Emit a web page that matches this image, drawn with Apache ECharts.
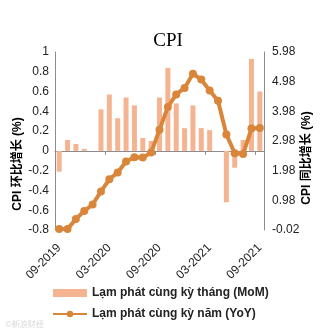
<!DOCTYPE html>
<html>
<head>
<meta charset="utf-8">
<script src="https://cdn.jsdelivr.net/npm/echarts@6/dist/echarts.min.js"></script>
<style>
html,body{margin:0;padding:0;background:#fff;}
#chart{width:331px;height:335px;}
</style>
</head>
<body>
<div id="chart"></div>
<script>
const categories = ['09-2019','10-2019','11-2019','12-2019','01-2020','02-2020','03-2020','04-2020','05-2020','06-2020','07-2020','08-2020','09-2020','10-2020','11-2020','12-2020','01-2021','02-2021','03-2021','04-2021','05-2021','06-2021','07-2021','08-2021','09-2021'];
const momValues = [-0.21, 0.11, 0.07, 0.02, 0, 0.42, 0.57, 0.33, 0.54, 0.46, 0.13, 0.10, 0.54, 0.84, 0.48, 0.23, 0.46, 0.23, 0.21, 0, -0.52, -0.17, 0.11, 0.93, 0.60];
const yoyValues = [0.01, 0.01, 0.35, 0.62, 0.84, 1.28, 1.69, 1.92, 2.29, 2.43, 2.42, 2.59, 3.36, 4.13, 4.55, 4.77, 5.25, 5.05, 4.68, 4.34, 3.20, 2.57, 2.54, 3.40, 3.42];
const rightTicks = [-0.02, 0.98, 1.98, 2.98, 3.98, 4.98, 5.98];
const seriesNames = ['Lạm phát cùng kỳ tháng (MoM)', 'Lạm phát cùng kỳ năm (YoY)'];
const titleText = 'CPI';
const leftName = 'CPI 环比增长 (%)';
const rightName = 'CPI 同比增长 (%)';

const sans = '"Liberation Sans", "Noto Sans CJK SC", sans-serif';
const chart = echarts.init(document.getElementById('chart'), null, {renderer: 'canvas'});
chart.setOption({
  animation: false,
  backgroundColor: '#fff',
  grid: {left: 55, right: 67, top: 52, bottom: 105, containLabel: false},
  graphic: [
    {type: 'text', x: 168, y: 41, style: {text: titleText, font: '19px "Liberation Serif", serif', fill: '#000', textAlign: 'center', textVerticalAlign: 'middle'}},
    {type: 'text', x: 18, y: 164, rotation: Math.PI / 2, style: {text: leftName, font: 'bold 12px ' + sans, fill: '#000', textAlign: 'center', textVerticalAlign: 'middle'}},
    {type: 'text', x: 307, y: 158, rotation: Math.PI / 2, style: {text: rightName, font: 'bold 12px ' + sans, fill: '#000', textAlign: 'center', textVerticalAlign: 'middle'}},
    {type: 'text', x: 5, y: 324, style: {text: '©新浪财经', font: '8px "Noto Sans CJK SC", sans-serif', fill: '#d8d8d8', textVerticalAlign: 'middle'}}
  ],
  legend: {
    orient: 'vertical', left: 52, top: 287, itemGap: 9, padding: 0,
    itemWidth: 34, itemHeight: 8,
    textStyle: {fontFamily: sans, fontSize: 12, fontWeight: 'bold', color: '#222'},
    data: [
      {name: seriesNames[0], icon: 'rect'},
      {name: seriesNames[1]}
    ]
  },
  xAxis: [
    {
      type: 'category', data: categories, position: 'bottom',
      axisLine: {onZero: true, lineStyle: {color: '#8c8c8c', width: 1}},
      axisTick: {show: true, interval: 5, length: 4, lineStyle: {color: '#8c8c8c'}},
      axisLabel: {show: false},
      splitLine: {show: false}
    },
    {
      type: 'category', data: categories, position: 'bottom',
      axisLine: {show: false, onZero: false},
      axisTick: {show: false},
      axisLabel: {interval: 5, rotate: 45, margin: 16, fontFamily: sans, fontSize: 12, color: '#222'},
      splitLine: {show: false}
    }
  ],
  yAxis: [
    {
      type: 'value', position: 'left', min: -0.8, max: 1, interval: 0.2,
      axisLine: {show: true, lineStyle: {color: '#8c8c8c'}},
      axisTick: {show: false},
      splitLine: {show: false},
      axisLabel: {margin: 6, fontFamily: sans, fontSize: 12, color: '#222', formatter: v => String(Math.round(v * 10) / 10)}
    },
    {
      type: 'value', position: 'right', min: rightTicks[0], max: rightTicks[rightTicks.length - 1],
      axisLine: {show: true, lineStyle: {color: '#8c8c8c'}},
      axisTick: {show: false},
      splitLine: {show: false},
      axisLabel: {margin: 8, fontFamily: sans, fontSize: 12, color: '#222', customValues: rightTicks, formatter: v => v.toFixed(2)}
    }
  ],
  series: [
    {
      name: seriesNames[0], type: 'bar', xAxisIndex: 0, yAxisIndex: 0,
      data: momValues, barWidth: 5,
      itemStyle: {color: '#F5B491'}
    },
    {
      name: seriesNames[1], type: 'line', xAxisIndex: 0, yAxisIndex: 1,
      data: yoyValues, symbol: 'circle', symbolSize: 8, showAllSymbol: true,
      lineStyle: {color: '#D9863B', width: 4},
      itemStyle: {color: '#D9863B'}
    }
  ]
});
</script>
</body>
</html>
